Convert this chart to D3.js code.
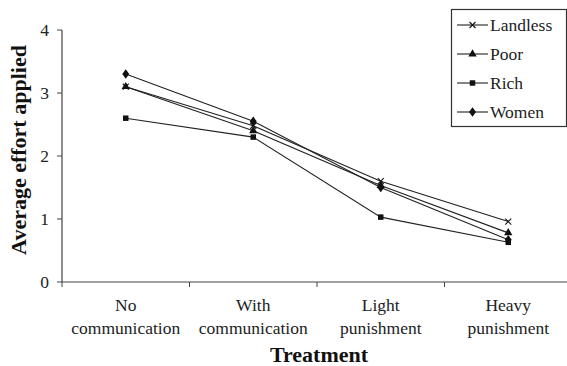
<!DOCTYPE html>
<html>
<head>
<meta charset="utf-8">
<script src="https://cdn.jsdelivr.net/npm/d3@7"></script>
<style>
body { margin: 0; background: #fff; }
</style>
</head>
<body>
<svg id="chart" width="567" height="366" font-family="'Liberation Serif', 'Times New Roman', serif"></svg>
<script>
var treatments = ['No|communication', 'With|communication', 'Light|punishment', 'Heavy|punishment'];
var yTicks = [0, 1, 2, 3, 4];
var landless = [3.1, 2.48, 1.6, 0.96];
var poor = [3.1, 2.4, 1.53, 0.78];
var rich = [2.6, 2.3, 1.03, 0.63];
var women = [3.3, 2.55, 1.5, 0.67];

var series = [
	{name: 'Landless', values: landless, symbol: 'x'},
	{name: 'Poor', values: poor, symbol: 'tri'},
	{name: 'Rich', values: rich, symbol: 'sq'},
	{name: 'Women', values: women, symbol: 'dia'}
];

var svg = d3.select('#chart');
var x = d3.scaleBand().domain(treatments).range([62, 572]);
var y = d3.scaleLinear().domain([0, 4]).range([282, 30]);

// axes
var axisColor = '#444';
svg.append('line').attr('x1', 62).attr('x2', 62).attr('y1', y(4)).attr('y2', y(0))
	.attr('stroke', axisColor).attr('stroke-width', 1.2);
svg.append('line').attr('x1', 62).attr('x2', 567).attr('y1', y(0)).attr('y2', y(0))
	.attr('stroke', axisColor).attr('stroke-width', 1.2);

yTicks.forEach(function(t){
	svg.append('line').attr('x1', 57).attr('x2', 62).attr('y1', y(t)).attr('y2', y(t))
		.attr('stroke', axisColor);
	svg.append('text').attr('x', 49).attr('y', y(t) + 6).attr('text-anchor', 'end')
		.attr('font-size', 17.5).attr('fill', '#222').text(t);
});

treatments.forEach(function(c, i){
	var x0 = x(c);
	svg.append('line').attr('x1', x0).attr('x2', x0).attr('y1', y(0)).attr('y2', y(0) + 5)
		.attr('stroke', axisColor);
	var cx = x0 + x.bandwidth() / 2;
	var lines = c.split('|');
	lines.forEach(function(l, j){
		svg.append('text').attr('x', cx).attr('y', 311 + j * 23).attr('text-anchor', 'middle')
			.attr('font-size', 17.5).attr('fill', '#222').text(l);
	});
});

svg.append('text').attr('x', 319).attr('y', 362).attr('text-anchor', 'middle')
	.attr('font-size', 22).attr('font-weight', 'bold').attr('fill', '#111').text('Treatment');
svg.append('text').attr('transform', 'translate(26,' + 150 + ') rotate(-90)')
	.attr('text-anchor', 'middle').attr('font-size', 22).attr('font-weight', 'bold')
	.attr('fill', '#111').text('Average effort applied');

function drawSymbol(g, sym, px, py){
	if (sym == 'x') {
		g.append('path').attr('d', 'M' + (px - 3) + ',' + (py - 3) + 'L' + (px + 3) + ',' + (py + 3) +
			'M' + (px - 3) + ',' + (py + 3) + 'L' + (px + 3) + ',' + (py - 3))
			.attr('stroke', '#111').attr('stroke-width', 1.1).attr('fill', 'none');
	} else {
		var type = sym == 'tri' ? d3.symbolTriangle : sym == 'sq' ? d3.symbolSquare : d3.symbolDiamond;
		var size = sym == 'tri' ? 30 : sym == 'sq' ? 30 : 32;
		g.append('path').attr('d', d3.symbol().type(type).size(size)())
			.attr('transform', 'translate(' + px + ',' + py + ')' + (sym == 'dia' ? ' scale(1.15,0.9)' : ''))
			.attr('fill', '#111');
	}
}

var line = d3.line()
	.x(function(d, i){ return x(treatments[i]) + x.bandwidth() / 2; })
	.y(function(d){ return y(d); });

series.forEach(function(s){
	var g = svg.append('g');
	g.append('path').attr('d', line(s.values)).attr('fill', 'none')
		.attr('stroke', '#222').attr('stroke-width', 1.1);
	s.values.forEach(function(v, i){
		drawSymbol(g, s.symbol, x(treatments[i]) + x.bandwidth() / 2, y(v));
	});
});

// legend
var lg = svg.append('g');
lg.append('rect').attr('x', 451.5).attr('y', 9.5).attr('width', 115).attr('height', 117)
	.attr('fill', '#fff').attr('stroke', '#333').attr('stroke-width', 1.2);
series.forEach(function(s, i){
	var ly = 25 + i * 29;
	lg.append('line').attr('x1', 457).attr('x2', 488).attr('y1', ly).attr('y2', ly)
		.attr('stroke', '#222').attr('stroke-width', 1.1);
	drawSymbol(lg, s.symbol, 472.5, ly);
	lg.append('text').attr('x', 490).attr('y', ly + 6).attr('font-size', 17.5).attr('fill', '#222').text(s.name);
});
</script>
</body>
</html>
